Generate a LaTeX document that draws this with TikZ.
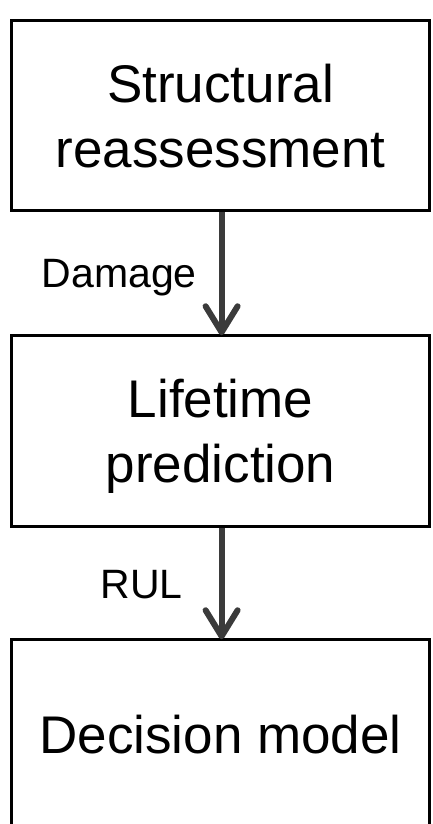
\documentclass[tikz,border=0pt]{standalone}
\usepackage{fontspec}
\setmainfont{Liberation Sans}
\usetikzlibrary{arrows.meta}
\definecolor{arrowgray}{HTML}{3B3B3B}
\tikzset{
  stagebox/.style={draw=black, line width=3.5pt, rectangle, inner sep=0pt,
    minimum width=418pt, align=center, font=\fontsize{53}{65}\selectfont,
    text depth=0pt},
  flowarrow/.style={draw=arrowgray, line width=6pt,
    -{Straight Barb[length=26pt, width=32pt, line cap=round, line join=round]}},
  flowlabel/.style={inner sep=0pt, anchor=base east, font=\fontsize{41}{48}\selectfont}
}
\begin{document}
\begin{tikzpicture}[x=1pt, y=-1pt]
\useasboundingbox (0,0) rectangle (433,824);
\node[stagebox, minimum height=190pt] (b1) at (220.6,115.5) {Structural\\reassessment};
\node[stagebox, minimum height=191pt] (b2) at (220.6,431) {Lifetime\\prediction};
\node[stagebox, minimum height=201pt, text height=38pt, text depth=11.5pt] (b3) at (220.6,740) {Decision model};
\draw[flowarrow] ([xshift=1pt]b1.south) -- ([xshift=1pt,yshift=-1.5pt]b2.north);
\draw[flowarrow] ([xshift=1pt]b2.south) -- ([xshift=1pt,yshift=-1.5pt]b3.north);
\node[flowlabel] (dmg) at (197,287) {Damage};
\node[flowlabel] (rul) at (183,598) {RUL};
\end{tikzpicture}
\end{document}
